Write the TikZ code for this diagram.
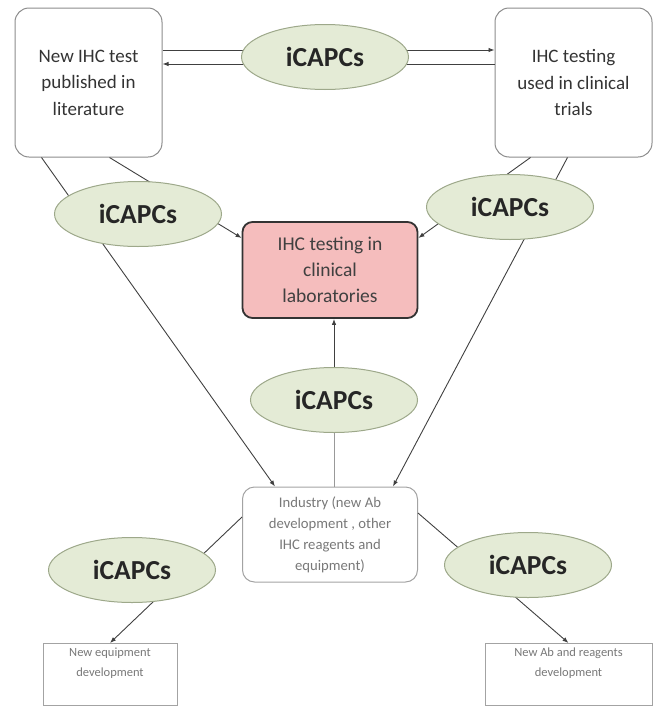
\documentclass[tikz,border=0pt]{standalone}
\usepackage{fontspec}
\setmainfont{Carlito}
\usetikzlibrary{shapes.geometric,arrows.meta}

\definecolor{capcfill}{RGB}{228,235,214}
\definecolor{capcline}{RGB}{157,168,138}
\definecolor{labfill}{RGB}{245,189,189}
\definecolor{boxline}{RGB}{140,140,140}
\definecolor{paletext}{RGB}{120,120,120}

\tikzset{
  capc/.style={ellipse, draw=capcline, fill=capcfill, line width=1pt,
    minimum width=167pt, minimum height=65pt, inner sep=0pt,
    font=\fontsize{27.5}{30}\selectfont\bfseries, text=black!85},
  topbox/.style={draw=boxline, rounded corners=14pt, line width=1pt, align=center,
    font=\fontsize{19}{26.5}\selectfont, text=black!80},
  labbox/.style={draw=black!80, fill=labfill, rounded corners=10pt, line width=1.8pt,
    align=center, font=\fontsize{19.5}{26}\selectfont, text=black!75},
  indbox/.style={draw=boxline!80, rounded corners=12pt, line width=1pt, align=center,
    font=\fontsize{14.7}{21}\selectfont, text=paletext},
  devbox/.style={draw=boxline!80, line width=1pt, align=center,
    font=\fontsize{12.5}{20}\selectfont, text=paletext},
  link/.style={draw=black!75, line width=0.9pt},
  tip/.style={-{Latex[length=6pt,width=4.5pt]}}
}

\begin{document}
\begin{tikzpicture}[x=1pt,y=-1pt]
    \useasboundingbox (0,0) rectangle (655,707);

    % boxes
    \node[topbox, minimum width=147pt, minimum height=149pt] (lit) at (88.5,82.5)
        {New IHC test\\published in\\literature};
    \node[topbox, minimum width=157pt, minimum height=149pt] (trial) at (573.5,82.5)
        {IHC testing\\used in clinical\\trials};
    \node[labbox, minimum width=175pt, minimum height=96pt] (lab) at (330,270)
        {IHC testing in\\clinical\\laboratories};
    \node[indbox, minimum width=175pt, minimum height=95pt] (ind) at (330,534.5)
        {Industry (new Ab\\development , other\\IHC reagents and\\equipment)};
    \node[devbox, minimum width=134pt, minimum height=62pt, anchor=north] (equip) at (110,643)
        {New equipment\\development\\[4pt]};
    \node[devbox, minimum width=167pt, minimum height=62pt, anchor=north] (reag) at (568.5,643)
        {New Ab and reagents\\development\\[4pt]};

    % connectors (the ellipses are drawn over them)
    \draw[link, tip] ([yshift=32.5pt]lit.east) -- ([yshift=32.5pt]trial.west);
    \draw[link, tip] ([yshift=18.5pt]trial.west) -- ([yshift=18.5pt]lit.east);
    \draw[link, tip] ([xshift=27pt]lit.south west) -- ([xshift=33pt]ind.north west);
    \draw[link, tip] ([xshift=95pt]lit.south west) -- ([yshift=32pt]lab.west);
    \draw[link, tip] ([xshift=36pt]trial.south west) -- ([yshift=32pt]lab.east);
    \draw[link, tip] ([xshift=73pt]trial.south west) -- ([xshift=-25pt]ind.north east);
    \draw[link, tip] ([yshift=17.5pt]ind.west) -- (equip.north);
    \draw[link, tip] ([yshift=21.5pt]ind.east) -- (reag.north);

    % iCAPCs
    \node[capc] (ctop) at (325,57) {iCAPCs};
    \node[capc] (cleft) at (138,214) {iCAPCs};
    \node[capc] (cright) at (510,207) {iCAPCs};
    \node[capc] (cmid) at (334,400) {iCAPCs};
    \node[capc] (cdl) at (132,570) {iCAPCs};
    \node[capc] (cdr) at (528,565) {iCAPCs};

    \draw[link, tip] (cmid.north) -- (cmid.north |- lab.south);
    \draw[link, draw=black!40] (cmid.south) -- (cmid.south |- ind.north);
\end{tikzpicture}
\end{document}
